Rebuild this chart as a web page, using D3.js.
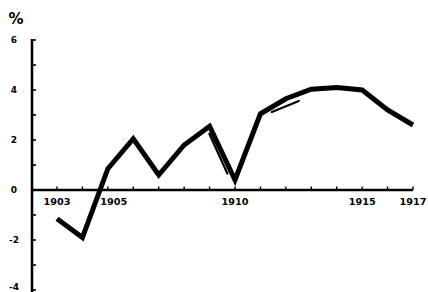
<!DOCTYPE html>
<html>
<head>
<meta charset="utf-8">
<script src="https://cdn.jsdelivr.net/npm/d3@7"></script>
<style>
	body { margin: 0; background: #fff; }
	text { font-family: "DejaVu Sans", sans-serif; font-weight: bold; fill: #000; }
</style>
</head>
<body>
<div id="chart"></div>
<script>
var years = [1903, 1904, 1905, 1906, 1907, 1908, 1909, 1910, 1911, 1912, 1913, 1914, 1915, 1916, 1917];
var values = [-1.15, -1.9, 0.85, 2.05, 0.6, 1.8, 2.55, 0.4, 3.05, 3.65, 4.03, 4.1, 4.0, 3.2, 2.6];
// the two thin strokes drawn beside the main line
var shadowA = [[1908.99, 2.25], [1909.7, 0.66]];
var shadowB = [[1911.45, 3.12], [1912.51, 3.56]];
var yTickVals = [6, 4, 2, 0, -2, -4];
var yTickLabels = ["6", "4", "2", "0", "-2", "-4"];
var xLabelYears = [1903, 1905, 1910, 1915, 1917];

var width = 428, height = 292;

var svg = d3.select("#chart").append("svg")
	.attr("width", width)
	.attr("height", height);

var x = d3.scaleLinear()
	.domain([1903, 1917])
	.range([57, 413]);
var y = d3.scaleLinear()
	.domain([-4, 6])
	.range([290, 40]);

var axisX = 32;

// y axis
svg.append("line")
	.attr("x1", axisX).attr("x2", axisX)
	.attr("y1", y(6) - 1).attr("y2", height)
	.attr("stroke", "#000")
	.attr("stroke-width", 2.6);
svg.selectAll(".ytick")
	.data(d3.range(-4, 7))
	.enter().append("line")
		.attr("class", "ytick")
		.attr("x1", axisX).attr("x2", axisX + 4)
		.attr("y1", function(d) {return y(d);})
		.attr("y2", function(d) {return y(d);})
		.attr("stroke", "#000")
		.attr("stroke-width", 1.6);
svg.selectAll(".ylab")
	.data(yTickVals)
	.enter().append("text")
		.attr("class", "ylab")
		.attr("x", 14)
		.attr("y", function(d) {return Math.min(y(d) + 3, 290);})
		.attr("text-anchor", "middle")
		.attr("font-size", 9)
		.text(function(d, i) {return yTickLabels[i];});
svg.append("text")
	.attr("x", 16)
	.attr("y", 24)
	.attr("text-anchor", "middle")
	.attr("font-size", 15)
	.text("%");

// x axis
svg.append("line")
	.attr("x1", axisX).attr("x2", x(1917))
	.attr("y1", y(0)).attr("y2", y(0))
	.attr("stroke", "#000")
	.attr("stroke-width", 2.4);
svg.selectAll(".xtick")
	.data(years)
	.enter().append("line")
		.attr("class", "xtick")
		.attr("x1", function(d) {return x(d);})
		.attr("x2", function(d) {return x(d);})
		.attr("y1", y(0)).attr("y2", y(0) - 3.5)
		.attr("stroke", "#000")
		.attr("stroke-width", 1.4);
svg.selectAll(".xlab")
	.data(xLabelYears)
	.enter().append("text")
		.attr("class", "xlab")
		.attr("x", function(d) {return d == 1905 ? x(d) + 6 : x(d);})
		.attr("y", y(0) + 15)
		.attr("text-anchor", "middle")
		.attr("font-size", 9)
		.attr("textLength", 27)
		.attr("lengthAdjust", "spacingAndGlyphs")
		.text(function(d) {return d;});

var line = d3.line()
	.x(function(d) {return x(d[0]);})
	.y(function(d) {return y(d[1]);});

svg.append("path")
	.datum(years.map(function(d, i) {return [d, values[i]];}))
	.attr("d", line)
	.attr("fill", "none")
	.attr("stroke", "#000")
	.attr("stroke-width", 5)
	.attr("stroke-linejoin", "miter")
	.attr("stroke-linecap", "butt");

[shadowA, shadowB].forEach(function(s) {
	svg.append("path")
		.datum(s)
		.attr("d", line)
		.attr("fill", "none")
		.attr("stroke", "#000")
		.attr("stroke-width", 2.2)
		.attr("stroke-linecap", "round");
});
</script>
</body>
</html>
